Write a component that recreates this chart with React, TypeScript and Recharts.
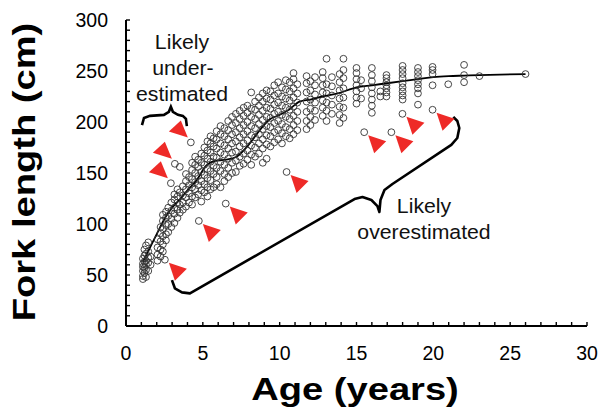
import React from 'react';
import { ComposedChart, XAxis, YAxis, Line, Scatter } from 'recharts';

const FONT = '"Liberation Sans", Arial, sans-serif';

// age groups (years) and the fork lengths (cm) recorded at each
const COLUMN_AGES = [
  1.1, 1.2, 1.3, 1.45, 1.6, 2.05, 2.25, 2.4, 2.6, 2.75, 2.95, 3.15, 3.35, 3.5, 3.7, 3.9, 4.1, 4.3, 4.5, 4.7,
  4.9, 5.1, 5.3, 5.5, 5.7, 5.9, 6.15, 6.4, 6.65, 6.9, 7.15, 7.4, 7.65, 7.9, 8.15, 8.4, 8.65, 8.9, 9.15,
  9.4, 9.65, 9.9, 10.15, 10.4, 10.65, 10.9, 11.15, 11.75, 12.0, 12.3, 12.8, 13.05, 13.4, 13.9, 14.15,
  15.0, 15.3, 16.0, 16.55, 16.95, 18.0, 19.0, 19.95, 20.97, 22.0, 23.0, 26.0,
];
const COLUMN_LENGTHS = [
  [46, 49, 54, 58, 61, 66],
  [52, 57, 63, 69, 75],
  [48, 55, 60, 64, 71, 79],
  [54, 62, 67, 73, 82],
  [60, 68],
  [64, 70, 77, 85],
  [68, 75, 83, 91, 97],
  [73, 80, 88, 95, 103, 109],
  [84, 90, 99, 106, 112],
  [92, 100, 108, 116],
  [97, 105, 113, 121],
  [101, 110, 116, 124, 129],
  [106, 114, 121, 127, 134],
  [111, 119, 131, 156],
  [114, 121, 128, 137],
  [117, 126, 134, 142, 149],
  [121, 130, 138, 146],
  [119, 127, 136, 144, 153, 160],
  [126, 134, 141, 150, 158, 166],
  [129, 138, 147, 156, 163],
  [122, 133, 142, 151, 160, 169],
  [131, 139, 148, 158, 167, 175],
  [127, 136, 145, 154, 164, 172, 181],
  [134, 143, 152, 161, 170, 179, 186],
  [136, 149, 157, 166, 176, 184],
  [139, 146, 155, 165, 174, 183, 191],
  [136, 152, 161, 170, 179, 188, 196],
  [142, 149, 158, 168, 177, 186, 194],
  [146, 155, 164, 174, 183, 192, 201],
  [150, 160, 170, 179, 188, 197, 205],
  [151, 162, 171, 181, 190, 199, 208],
  [157, 166, 176, 185, 194, 203, 211],
  [159, 169, 179, 188, 197, 206, 214],
  [163, 172, 182, 191, 200, 209, 216],
  [158, 168, 177, 187, 196, 205, 213, 229],
  [166, 175, 185, 194, 203, 212, 220],
  [169, 179, 188, 198, 207, 216, 224],
  [160, 174, 183, 193, 202, 211, 220, 228],
  [164, 178, 187, 196, 205, 214, 223, 231],
  [176, 186, 195, 204, 213, 222, 230],
  [180, 190, 199, 208, 217, 226, 236],
  [183, 192, 201, 210, 219, 228, 239],
  [179, 189, 198, 207, 216, 225, 234],
  [186, 195, 205, 214, 223, 232, 241],
  [184, 193, 203, 212, 221, 230, 239],
  [188, 197, 206, 215, 224, 233, 242, 248],
  [192, 201, 210, 219, 228, 237],
  [193, 201, 210, 220, 229, 238, 245],
  [197, 205, 213, 222, 231, 240],
  [202, 211, 219, 227, 236, 244],
  [206, 214, 221, 229, 236, 243, 249],
  [201, 211, 219, 228, 237, 262],
  [208, 217, 226, 235, 244],
  [199, 207, 215, 223, 231, 239, 247],
  [204, 214, 224, 233, 243, 251, 262],
  [218, 224, 230, 236, 242, 248, 253],
  [223, 233, 241],
  [209, 216, 222, 228, 234, 240, 246, 253],
  [225, 230],
  [225, 229, 233, 236, 239, 243, 246],
  [222, 226, 230, 234, 238, 243, 247, 251, 255],
  [217, 228, 233, 237, 241, 245, 249, 253],
  [236, 247, 251, 254],
  [237],
  [239, 246, 256],
  [245],
  [247],
];

// flagged fish: [age, length]
const UNDER_OUTLIERS = [[4.22, 180], [3.18, 159], [2.92, 140]];
const OVER_OUTLIERS = [
  [2.53, 65], [4.74, 103], [6.49, 120], [10.45, 151],
  [15.5, 190], [17.27, 190], [17.99, 208], [19.95, 212],
];

// mean length-at-age curve
const MEAN_AGES = [1.1, 1.5, 2.0, 2.5, 3.0, 3.5, 4.0, 4.6, 5.2, 5.8, 6.5, 7.2, 8.0, 8.6, 9.3, 10.0, 10.6, 11.3, 12.0, 12.8, 13.8, 15.0, 16.0, 17.0, 18.0, 19.0, 20.0, 21.0, 22.0, 23.0, 26.0];
const MEAN_LENGTHS = [63, 75, 90, 105, 116, 124, 133, 143, 157, 162, 163, 166, 178, 190, 202, 207, 212, 220, 222, 225, 228, 234, 236, 238, 240, 242, 244, 245, 245.5, 246, 247];

// annotation braces, in data units
const UNDER_BRACE = [
  [1.04, 197], [1.17, 204], [1.56, 206], [2.47, 207], [2.79, 210], [2.92, 215],
  [3.05, 210], [3.38, 207], [3.7, 206], [3.9, 203], [3.96, 196],
];
const OVER_BRACE = [
  [2.99, 45], [3.18, 37], [3.64, 33], [4.16, 32], [14.87, 124.5], [15.39, 126.5], [15.97, 123.5],
  [16.36, 117.6], [16.49, 111.8], [16.56, 123.5], [16.82, 133.3], [17.34, 139.2], [21.17, 177.5],
  [21.56, 184.3], [21.69, 194.1], [21.56, 201], [21.3, 205],
];

const X_TICKS = [0, 1, 2, 3, 4, 5, 6, 7, 8, 9, 10, 11, 12, 13, 14, 15, 16, 17, 18, 19, 20, 21, 22, 23, 24, 25, 26, 27, 28, 29, 30];
const Y_TICKS = [0, 10, 20, 30, 40, 50, 60, 70, 80, 90, 100, 110, 120, 130, 140, 150, 160, 170, 180, 190, 200, 210, 220, 230, 240, 250, 260, 270, 280, 290, 300];

const toXY = (pairs: number[][]) => pairs.map(([x, y]) => ({ x, y }));

const points = COLUMN_AGES.flatMap((age, i) => COLUMN_LENGTHS[i].map((len) => ({ x: age, y: len })));
const allPoints = [...points, ...toXY(UNDER_OUTLIERS), ...toXY(OVER_OUTLIERS)];
const meanData = MEAN_AGES.map((x, i) => ({ x, y: MEAN_LENGTHS[i] }));

const RED = '#ee2a27';

// open markers, no fill, so overlapping rings stay visible
const OpenCircle = (p: any) => (
  <circle cx={p.cx} cy={p.cy} r={3.4} fill="none" stroke="#333" strokeWidth={0.9} />
);

const OverTriangle = (p: any) => (
  <polygon
    points={`${p.cx + 4},${p.cy + 3} ${p.cx + 22},${p.cy + 9} ${p.cx + 10},${p.cy + 21}`}
    fill={RED}
  />
);

const UnderTriangle = (p: any) => (
  <polygon
    points={`${p.cx - 3},${p.cy - 5} ${p.cx - 10},${p.cy - 22} ${p.cx - 22},${p.cy - 11}`}
    fill={RED}
  />
);

const XTick = (props: any) => {
  const { x, y, payload } = props;
  const v = payload.value;
  return (
    <g>
      <line x1={x} x2={x} y1={y} y2={y - 4} stroke="#000" strokeWidth={1.4} />
      {v % 5 === 0 && (
        <text x={x} y={y + 34} textAnchor="middle" fontSize={19.5} fontFamily={FONT} fill="#000">{v}</text>
      )}
    </g>
  );
};

const YTick = (props: any) => {
  const { x, y, payload } = props;
  const v = payload.value;
  return (
    <g>
      <line x1={x} x2={x + 4} y1={y} y2={y} stroke="#000" strokeWidth={1.4} />
      {v % 50 === 0 && (
        <text x={x - 18} y={y + 7} textAnchor="end" fontSize={19.5} fontFamily={FONT} fill="#000">{v}</text>
      )}
    </g>
  );
};

export default function App() {
  return (
    <div style={{ position: 'absolute', left: 0, top: 0, width: 602, height: 412, background: '#fff' }}>
      <ComposedChart width={602} height={412} margin={{ top: 20, right: 15, bottom: 0, left: 0 }}>
        <XAxis
          type="number"
          dataKey="x"
          domain={[0, 30]}
          ticks={X_TICKS}
          interval={0}
          allowDataOverflow
          height={86}
          tickSize={0}
          tickMargin={0}
          tickLine={false}
          tick={<XTick />}
          axisLine={{ stroke: '#000', strokeWidth: 2 }}
        />
        <YAxis
          type="number"
          dataKey="y"
          domain={[0, 300]}
          ticks={Y_TICKS}
          interval={0}
          allowDataOverflow
          width={126}
          tickSize={0}
          tickMargin={0}
          tickLine={false}
          tick={<YTick />}
          axisLine={{ stroke: '#000', strokeWidth: 2 }}
        />
        <Scatter data={allPoints} shape={OpenCircle} isAnimationActive={false} />
        <Line data={meanData} dataKey="y" type="monotone" stroke="#000" strokeWidth={1.8} dot={false} activeDot={false} isAnimationActive={false} />
        <Scatter data={toXY(OVER_OUTLIERS)} shape={OverTriangle} isAnimationActive={false} />
        <Scatter data={toXY(UNDER_OUTLIERS)} shape={UnderTriangle} isAnimationActive={false} />
        <Line data={toXY(UNDER_BRACE)} dataKey="y" type="linear" stroke="#000" strokeWidth={2.6} dot={false} activeDot={false} isAnimationActive={false} />
        <Line data={toXY(OVER_BRACE)} dataKey="y" type="linear" stroke="#000" strokeWidth={2.6} strokeLinejoin="round" dot={false} activeDot={false} isAnimationActive={false} />
      </ComposedChart>
      <svg width={602} height={412} style={{ position: 'absolute', left: 0, top: 0, pointerEvents: 'none' }}>
        <text transform="translate(35,172) rotate(-90) scale(1.23,1)" textAnchor="middle" fontSize={31} fontWeight="bold" fontFamily={FONT} fill="#000">
          Fork length (cm)
        </text>
        <text transform="translate(355,400) scale(1.23,1)" textAnchor="middle" fontSize={31} fontWeight="bold" fontFamily={FONT} fill="#000">
          Age (years)
        </text>
        <g fontSize={19.5} fontFamily={FONT} fill="#111" textAnchor="middle">
          <text transform="translate(182,49) scale(1.09,1)">Likely</text>
          <text transform="translate(183,75) scale(1.09,1)">under-</text>
          <text transform="translate(182,101) scale(1.09,1)">estimated</text>
          <text transform="translate(424,213) scale(1.09,1)">Likely</text>
          <text transform="translate(424,239) scale(1.09,1)">overestimated</text>
        </g>
      </svg>
    </div>
  );
}
